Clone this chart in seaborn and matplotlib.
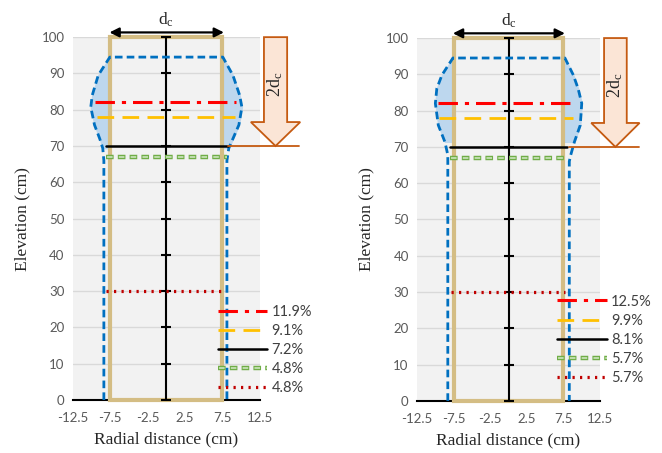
import matplotlib
matplotlib.use('Agg')
import matplotlib.pyplot as plt
import seaborn as sns
from matplotlib.patches import FancyArrow, Rectangle
from matplotlib.legend_handler import HandlerTuple

# ------------------------------------------------------- #
#                 DATOS               #
# ------------------------------------------------------- #
levels = [82, 78, 70, 67, 30]

left_start = [-9.6, -9.3, -8.0, -8.0, -8.0]
left_end = [9.3, 9.2, 8.2, 8.1, 7.8]
left_labels = ['11.9%', '9.1%', '7.2%', '4.8%', '4.8%']

right_start = [-9.6, -9.5, -8.0, -8.0, -7.9]
right_end = [9.1, 8.8, 8.0, 8.0, 7.7]
right_labels = ['12.5%', '9.9%', '8.1%', '5.7%', '5.7%']

# contorno azul (zona ensanchada)
left_out_y = [0, 66, 69.4, 72, 75.8, 80.7, 84, 89.5, 94.5]
left_out_l = [-8.35, -8.35, -8.5, -8.9, -9.6, -10.1, -9.9, -9.1, -7.55]
left_out_r = [8.1, 8.1, 8.35, 8.9, 9.7, 10.1, 9.8, 8.9, 7.55]

right_out_y = [0, 66, 67.8, 71.4, 76, 82, 86.1, 89.8, 94.5]
right_out_l = [-8.3, -8.3, -8.3, -8.7, -9.6, -10.0, -9.8, -9.1, -7.6]
right_out_r = [8.3, 8.3, 8.5, 9.0, 9.8, 10.0, 9.5, 8.85, 7.7]

x_ticks = [-12.5, -7.5, -2.5, 2.5, 7.5, 12.5]
y_ticks = [0, 10, 20, 30, 40, 50, 60, 70, 80, 90, 100]

# ------------------------------------------------------- #
#                         ESTILO                          #
# ------------------------------------------------------- #
sns.set_theme(style='white')
plt.rcParams['font.family'] = ['Lato', 'DejaVu Sans']
plt.rcParams['mathtext.fontset'] = 'stix'
plt.rcParams['lines.scale_dashes'] = False

SERIF = 'Liberation Serif'
ORANGE = '#C55A11'
BLUE = '#0070C0'

level_styles = [
    dict(color='#FF0000', lw=2.2, ls=(0, (14, 5, 3, 5))),
    dict(color='#FFC000', lw=2.0, ls=(0, (12, 6))),
    dict(color='black', lw=1.8, ls='-'),
    None,  # verde (doble trazo)
    dict(color='#C00000', lw=2.3, ls=(0, (1.6, 3.8))),
]


def draw_panel(ax, start, end, labels, out_y, out_l, out_r, leg_anchor):
    ax.set_facecolor('#F2F2F2')
    ax.set_xlim(-12.5, 12.5)
    ax.set_ylim(0, 100)
    for y in y_ticks[1:]:
        ax.axhline(y, color='#D9D9D9', lw=1.0, zorder=0)

    # relleno azul entre columna y contorno
    top = [i for i, y in enumerate(out_y) if y >= 69]
    ys = [out_y[i] for i in top]
    ax.fill_betweenx(ys, [out_l[i] for i in top], -7.5, color='#BDD7EE', zorder=1)
    ax.fill_betweenx(ys, [out_r[i] for i in top], 7.5, color='#BDD7EE', zorder=1)

    # columna
    ax.add_patch(Rectangle((-7.5, 0), 15, 100, fill=False, edgecolor='#D4BD84',
                           lw=3, zorder=2, clip_on=False))

    # eje central
    ax.plot([0] * len(y_ticks), y_ticks, color='black', lw=1.5, marker='_',
            ms=7.5, mew=1.5, zorder=3, clip_on=False)

    # contorno azul
    sns.lineplot(x=out_l + out_r[::-1], y=out_y + out_y[::-1], sort=False,
                 estimator=None, ax=ax, color=BLUE, lw=2.0,
                 linestyle=(0, (5.5, 3)), zorder=4)

    handles = []
    for k, lev in enumerate(levels):
        xs = [start[k], end[k]]
        if level_styles[k] is None:
            h1, = ax.plot(xs, [lev, lev], color='#70AD47', lw=3.2,
                          linestyle=(0, (5.5, 3)), zorder=5)
            h2, = ax.plot(xs, [lev, lev], color='#C5E0B4', lw=1.3,
                          linestyle=(7.75, (4, 4.5)), zorder=6)
            handles.append((h1, h2))
        else:
            st = level_styles[k]
            h, = ax.plot(xs, [lev, lev], color=st['color'], lw=st['lw'],
                         linestyle=st['ls'], zorder=5)
            handles.append(h)

    ax.legend(handles, labels,
              handler_map={tuple: HandlerTuple(ndivide=1, pad=0)},
              loc='upper left', bbox_to_anchor=leg_anchor, frameon=False,
              fontsize=10.5, labelcolor='#404040', handlelength=3.4,
              handletextpad=0.3, labelspacing=0.35, borderpad=0,
              borderaxespad=0)

    # flecha d_c
    ax.annotate('', xy=(-7.6, 101.3), xytext=(7.7, 101.3),
                arrowprops=dict(arrowstyle='<|-|>', color='black', lw=1.6,
                                mutation_scale=14, shrinkA=0, shrinkB=0),
                annotation_clip=False)
    ax.text(0, 102.2, r'd$_\mathregular{c}$', ha='center', va='bottom',
            family=SERIF, fontsize=12.5, clip_on=False)

    # flecha 2d_c
    ax.plot([8.2, 17.8], [70, 70], color=ORANGE, lw=1.3, clip_on=False, zorder=6)
    ax.add_patch(FancyArrow(14.6, 100, 0, -30, width=3.1, head_width=6.6,
                            head_length=6.6, length_includes_head=True,
                            facecolor='#FBE5D6', edgecolor=ORANGE, lw=1.3,
                            clip_on=False, zorder=7))
    ax.text(14.6, 87, r'2d$_\mathregular{c}$', rotation=90, ha='center',
            va='center', family=SERIF, fontsize=13, clip_on=False, zorder=8)

    ax.set_xticks(x_ticks)
    ax.set_xticklabels([f'{v:g}' for v in x_ticks])
    ax.set_yticks(y_ticks)
    ax.tick_params(axis='x', direction='out', length=5, width=1.2,
                   color='black', labelsize=9.5, labelcolor='#595959', pad=4)
    ax.tick_params(axis='y', length=0, labelsize=9.5, labelcolor='#595959', pad=6)
    for s in ['top', 'right', 'left']:
        ax.spines[s].set_visible(False)
    ax.spines['bottom'].set_color('black')
    ax.spines['bottom'].set_linewidth(1.5)
    ax.spines['bottom'].set_zorder(1)

    ax.set_xlabel('Radial distance (cm)', family=SERIF, fontsize=12.5, labelpad=5)
    ax.set_ylabel('Elevation (cm)', family=SERIF, fontsize=12.5, labelpad=8)


fig = plt.figure(figsize=(6.62, 4.53), dpi=100)
ax1 = fig.add_axes([0.110, 0.117, 0.2825, 0.801])
ax2 = fig.add_axes([0.630, 0.115, 0.2764, 0.801])

draw_panel(ax1, left_start, left_end, left_labels,
           left_out_y, left_out_l, left_out_r, (0.775, 0.262))
draw_panel(ax2, right_start, right_end, right_labels,
           right_out_y, right_out_l, right_out_r, (0.765, 0.293))

fig.savefig('out.png', dpi=100)
